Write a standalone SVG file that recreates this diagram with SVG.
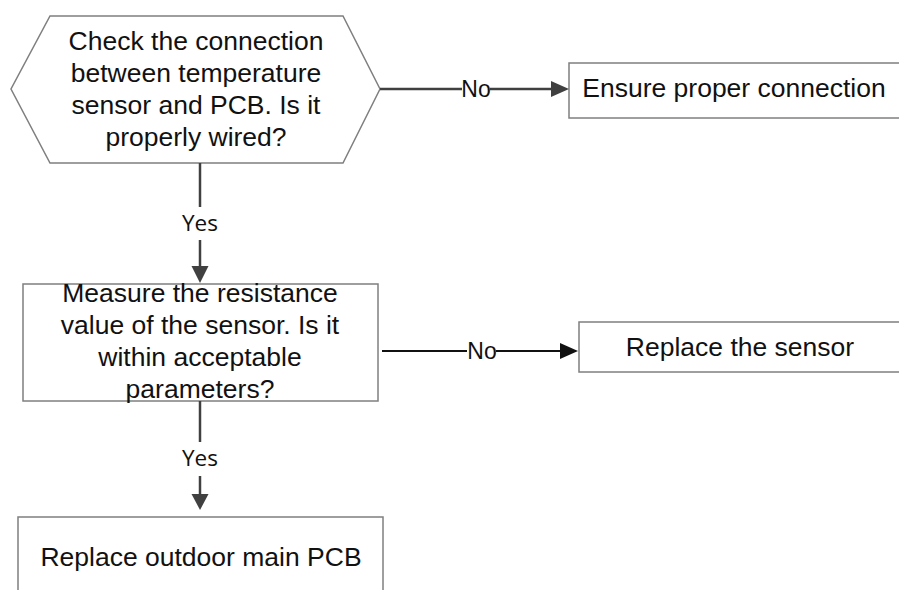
<svg xmlns="http://www.w3.org/2000/svg" width="899" height="590" viewBox="0 0 899 590">
  <style>
    .shape { fill: #ffffff; stroke: #7f7f7f; stroke-width: 1.5; }
    .txt { font-family: "Liberation Sans", Arial, sans-serif; font-size: 26.5px; fill: #111111; text-anchor: middle; }
    .no { font-family: "Liberation Sans", Arial, sans-serif; font-size: 23px; fill: #111111; text-anchor: middle; }
    .yes { font-family: "Open Sans", "Noto Sans", sans-serif; font-size: 22.5px; fill: #111111; text-anchor: middle; }
    .edge { fill: none; stroke: #404040; stroke-width: 2.5; }
    .edge2 { fill: none; stroke: #111111; stroke-width: 2; }
    .head { fill: #404040; }
    .head2 { fill: #111111; }
  </style>
  <rect width="899" height="590" fill="#ffffff"/>

  <g id="n1">
    <polygon class="shape" points="50,16 343,16 380,89 343,163 50,163 11,89"/>
    <text class="txt" x="196" y="50">Check the connection</text>
    <text class="txt" x="196" y="82">between temperature</text>
    <text class="txt" x="196" y="114">sensor and PCB. Is it</text>
    <text class="txt" x="196" y="146">properly wired?</text>
  </g>

  <g id="n2">
    <rect class="shape" x="569" y="63" width="335" height="55"/>
    <text class="txt" x="734" y="97">Ensure proper connection</text>
  </g>

  <g id="n3">
    <rect class="shape" x="23" y="284" width="355" height="117"/>
    <text class="txt" x="200" y="302">Measure the resistance</text>
    <text class="txt" x="200" y="334">value of the sensor. Is it</text>
    <text class="txt" x="200" y="366">within acceptable</text>
    <text class="txt" x="200" y="398">parameters?</text>
  </g>

  <g id="n4">
    <rect class="shape" x="579" y="322" width="325" height="50"/>
    <text class="txt" x="740" y="356">Replace the sensor</text>
  </g>

  <g id="n5">
    <rect class="shape" x="18" y="517" width="365" height="80"/>
    <text class="txt" x="201" y="566">Replace outdoor main PCB</text>
  </g>

  <g id="connectors">
    <!-- n1 -> n2 (No) -->
    <line class="edge" x1="380" y1="89" x2="462" y2="89" stroke-width="2"/>
    <line class="edge" x1="490" y1="89" x2="552" y2="89" stroke-width="2"/>
    <polygon class="head" points="551,81 569,89 551,97"/>
    <text class="no" x="476" y="97">No</text>

    <!-- n1 -> n3 (Yes) -->
    <line class="edge" x1="200" y1="163" x2="200" y2="207"/>
    <line class="edge" x1="200" y1="240" x2="200" y2="268"/>
    <polygon class="head" points="191.5,266 208.5,266 200,283"/>
    <text class="yes" x="200" y="231">Yes</text>

    <!-- n3 -> n4 (No) -->
    <line class="edge2" x1="382" y1="351" x2="467" y2="351"/>
    <line class="edge2" x1="496" y1="351" x2="562" y2="351"/>
    <polygon class="head2" points="560,343 578,351 560,359"/>
    <text class="no" x="482" y="359">No</text>

    <!-- n3 -> n5 (Yes) -->
    <line class="edge" x1="200" y1="401" x2="200" y2="442"/>
    <line class="edge" x1="200" y1="476" x2="200" y2="496"/>
    <polygon class="head" points="191.5,494 208.5,494 200,510"/>
    <text class="yes" x="200" y="466">Yes</text>
  </g>
</svg>
